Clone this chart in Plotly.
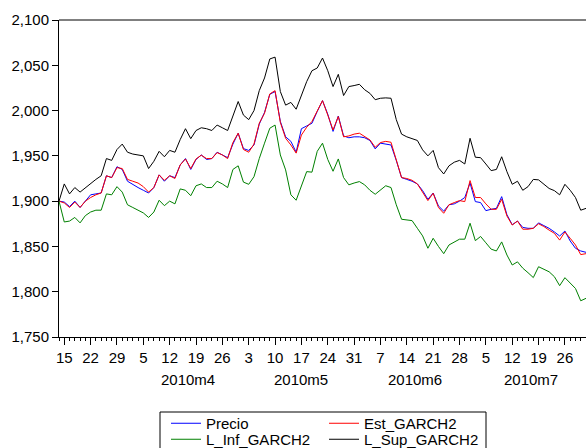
import plotly.graph_objects as go
import pandas as pd

# Observation dates (5-day weekly frequency)
dates = pd.bdate_range("2010-03-12", "2010-07-30")

precio = [1900, 1899, 1894, 1900, 1893, 1900, 1907, 1908, 1909, 1928,
          1926, 1938, 1935, 1922, 1918, 1915, 1912, 1909, 1915, 1929,
          1922, 1928, 1926, 1940, 1947, 1935, 1946, 1951, 1946, 1947,
          1954, 1951, 1948, 1963, 1975, 1958, 1956, 1962, 1985, 1998,
          2018, 2021, 1988, 1971, 1966, 1954, 1980, 1983, 1986, 1999,
          2011, 1996, 1977, 1994, 1972, 1970, 1971, 1971, 1970, 1967,
          1957.7, 1964, 1963, 1962, 1945, 1926, 1924, 1922, 1919, 1911.6,
          1902, 1909, 1894.7, 1889, 1896, 1897, 1900, 1904, 1920, 1899.5,
          1898.4, 1889.5, 1891, 1892, 1905, 1885, 1874, 1878, 1871, 1870,
          1870, 1876, 1873, 1870, 1866, 1861.5, 1867, 1856, 1848, 1845,
          1843.5]

est_garch2 = [1900, 1898, 1893, 1899, 1893, 1900, 1904, 1907, 1909, 1928,
              1926, 1937, 1936, 1924, 1922, 1920, 1916, 1910, 1915, 1929,
              1923, 1928, 1925, 1940, 1946.6, 1936, 1946.6, 1950.7, 1947, 1947,
              1953.6, 1951, 1947, 1964.7, 1975, 1957, 1954, 1963, 1986, 1997,
              2018.4, 2022, 1987, 1969.4, 1962, 1953, 1973, 1981.6, 1988, 1999,
              2011, 1995, 1978.6, 1993.4, 1971, 1972, 1974, 1975, 1971, 1967.6,
              1959.5, 1964.7, 1966, 1965, 1945.5, 1926, 1925, 1923, 1919, 1910.5,
              1900.6, 1908.7, 1893, 1886.6, 1896, 1898.4, 1900.6, 1899.5, 1922.7, 1904,
              1904, 1897, 1891, 1891, 1902, 1883.6, 1873.6, 1878, 1869, 1869,
              1870, 1875, 1872, 1868, 1864.5, 1857, 1866, 1859, 1851.6, 1841,
              1842]

l_inf_garch2 = [1900, 1877, 1878, 1882, 1876, 1884, 1888, 1890, 1890, 1908,
                1907, 1916, 1910, 1896, 1893, 1890, 1887, 1882, 1888, 1901,
                1895, 1900, 1897, 1913.5, 1912, 1906, 1917, 1919, 1915, 1915,
                1922, 1919, 1915, 1935, 1939, 1921, 1918.6, 1927, 1947, 1964,
                1980.5, 1984, 1951, 1934.5, 1907, 1901, 1917, 1932.6, 1932, 1955,
                1964, 1946, 1933, 1946.6, 1926, 1918, 1920, 1921.6, 1918, 1912,
                1907.6, 1912, 1917, 1915, 1896, 1880, 1879, 1878.5, 1870, 1861.6,
                1848, 1859, 1850, 1842, 1851.6, 1855, 1858, 1858, 1875.6, 1856.4,
                1861, 1854, 1847, 1845, 1855, 1840.5, 1829.5, 1833, 1826, 1821,
                1815.6, 1827.6, 1825, 1822, 1816.6, 1806.7, 1815.5, 1810, 1803.6, 1790,
                1792.7]

l_sup_garch2 = [1900, 1919, 1908, 1915, 1910, 1915, 1920, 1924, 1928, 1947,
                1945, 1957, 1963, 1954, 1952, 1951, 1950, 1936, 1944, 1955,
                1949, 1956, 1954, 1968, 1980, 1969, 1978, 1981, 1980, 1978,
                1984, 1981, 1978, 1994, 2010, 1995, 1990, 2000, 2022, 2036,
                2057, 2059, 2021, 2006, 2009, 2001.5, 2016, 2032, 2044, 2047,
                2058, 2044, 2026.5, 2040, 2016.6, 2026.5, 2027.6, 2029, 2023, 2019,
                2012, 2013.6, 2014, 2013.6, 1990, 1974, 1971, 1969, 1967, 1956.6,
                1950, 1956, 1937, 1930, 1939, 1943, 1945, 1941, 1969.4, 1948.5,
                1948, 1941, 1933.7, 1935, 1949, 1932.5, 1918.6, 1922, 1912, 1916,
                1924, 1923.5, 1918.6, 1914, 1911.6, 1907, 1918.6, 1912, 1904, 1890,
                1892]

month_labels = ["2010m4", "2010m5", "2010m6", "2010m7"]
month_keys = [(2010, 4), (2010, 5), (2010, 6), (2010, 7)]

x = list(range(len(dates)))
tick_vals = [i for i, d in enumerate(dates) if d.weekday() == 0]
tick_text = [str(dates[i].day) for i in tick_vals]
month_pos = []
for (yy, mm) in month_keys:
    idx = [i for i, d in enumerate(dates) if d.year == yy and d.month == mm]
    month_pos.append((idx[0] + idx[-1]) / 2)

FONT = "Liberation Sans, Arial, sans-serif"
FS = 15

fig = go.Figure()
fig.add_trace(go.Scatter(x=x, y=precio, mode="lines", name="Precio",
                         line=dict(color="#0000FF", width=1), legend="legend"))
fig.add_trace(go.Scatter(x=x, y=est_garch2, mode="lines", name="Est_GARCH2",
                         line=dict(color="#FF0000", width=1), legend="legend"))
fig.add_trace(go.Scatter(x=x, y=l_inf_garch2, mode="lines", name="L_Inf_GARCH2",
                         line=dict(color="#008000", width=1), legend="legend2"))
fig.add_trace(go.Scatter(x=x, y=l_sup_garch2, mode="lines", name="L_Sup_GARCH2",
                         line=dict(color="#000000", width=1), legend="legend2"))

# Plot geometry: left 59, top 20, bottom 337, right 586
L, T, B, R = 59, 20, 337, 586
W, H = R - L, B - T

def px2paper(px, py):
    return (px - L) / W, (B - py) / H

for lab, pos in zip(month_labels, month_pos):
    fig.add_annotation(x=pos, xref="x", y=px2paper(0, 379)[1], yref="paper",
                       text=lab, showarrow=False, font=dict(size=FS, color="black", family=FONT),
                       xanchor="center", yanchor="middle")

# top frame line
fig.add_shape(type="line", xref="paper", yref="paper", x0=0, x1=1, y0=1, y1=1,
              line=dict(color="black", width=1))
# legend box
bx0, by0 = px2paper(160, 412)
bx1, by1 = px2paper(486, 470)
fig.add_shape(type="rect", xref="paper", yref="paper", x0=bx0, x1=bx1, y0=by1, y1=by0,
              line=dict(color="black", width=1), fillcolor="rgba(0,0,0,0)")

lx, ly1 = px2paper(166, 407)
_, ly2 = px2paper(166, 423)
legend_common = dict(orientation="h", xanchor="left", yanchor="top",
                     font=dict(size=FS, color="black", family=FONT),
                     bgcolor="rgba(0,0,0,0)", borderwidth=0,
                     entrywidth=113, entrywidthmode="pixels", itemclick=False)

fig.update_layout(
    width=586, height=448,
    margin=dict(l=L, r=0, t=T, b=448 - B, pad=0, autoexpand=False),
    paper_bgcolor="white", plot_bgcolor="white",
    font=dict(family=FONT, size=FS, color="black"),
    showlegend=True,
    legend=dict(x=lx, y=ly1, **legend_common),
    legend2=dict(x=lx, y=ly2, **legend_common),
    xaxis=dict(range=[0, len(dates) - 1], tickmode="array", tickvals=tick_vals,
               ticktext=tick_text, ticks="outside", ticklen=7, tickwidth=1,
               tickcolor="black", showline=True, linecolor="black", linewidth=1,
               showgrid=False, zeroline=False, tickfont=dict(size=FS),
               minor=dict(tickmode="linear", tick0=0, dtick=1, ticks="outside",
                          ticklen=3, tickwidth=1, tickcolor="black", showgrid=False)),
    yaxis=dict(range=[1750, 2100], tickmode="linear", tick0=1750, dtick=50,
               tickformat=",d", ticks="outside", ticklen=6, tickwidth=1,
               tickcolor="black", showline=True, linecolor="black", linewidth=1,
               showgrid=False, zeroline=False, tickfont=dict(size=FS)),
)

fig.write_html("out.html")
